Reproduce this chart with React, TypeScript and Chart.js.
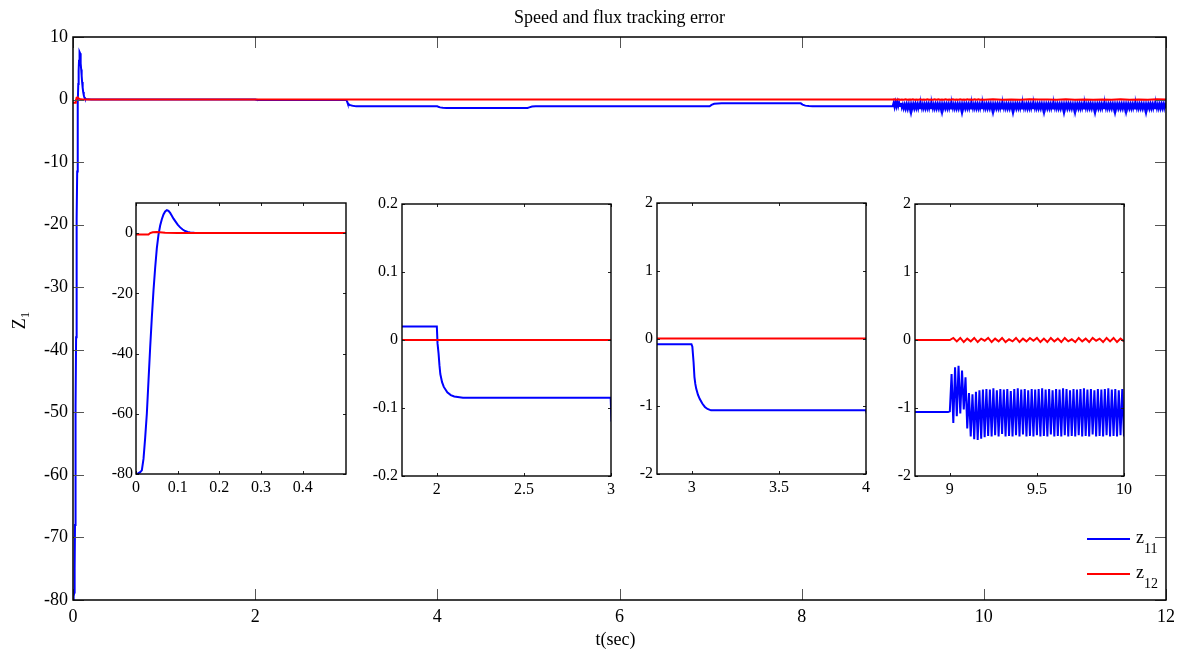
import React, { useEffect, useRef } from "react";
import { Chart, registerables } from "chart.js";

Chart.register(...registerables);

const FONT = "'Liberation Serif', 'Times New Roman', serif";

// ---------- data ----------
const seriesLabels = ["z11", "z12"];
const seriesColors = ["#0000FF", "#FF0000"];

// z11: transient part (time, value)
const z11Time = [
  0, 0.004, 0.01, 0.014, 0.018, 0.022, 0.026, 0.03, 0.034, 0.038,
  0.042, 0.046, 0.05, 0.054, 0.058, 0.062, 0.066, 0.07, 0.074, 0.078,
  0.082, 0.086, 0.09, 0.095, 0.1, 0.106, 0.112, 0.118, 0.124, 0.13,
  0.14, 0.16, 0.2,
  2.0, 2.004, 2.01, 2.015, 2.02, 2.03, 2.04, 2.06, 2.08, 2.1, 2.15,
  2.998, 3.003, 3.01, 3.015, 3.02, 3.025, 3.035, 3.045, 3.06, 3.075, 3.09, 3.11,
  3.999, 4.01, 4.03, 4.06, 4.1, 4.15,
  4.99, 5.01, 5.04, 5.08, 5.12,
  6.99, 7.01, 7.04, 7.08, 7.12,
  7.99, 8.01, 8.04, 8.08, 8.12, 8.99,
];
const z11Value = [
  -80, -79.9, -79.4, -78.8, -75, -68, -60, -49, -38, -28,
  -19, -11.5, -5, -0.5, 2.5, 4.6, 6.2, 7.2, 7.6, 7.4,
  6.7, 5.8, 4.8, 3.8, 2.8, 1.9, 1.2, 0.7, 0.4, 0.2,
  0.08, 0.03, 0.02,
  0.02, -0.005, -0.02, -0.037, -0.05, -0.062, -0.069, -0.077, -0.081, -0.083, -0.085,
  -0.085, -0.12, -0.35, -0.57, -0.67, -0.74, -0.83, -0.89, -0.96, -1.01, -1.04, -1.06,
  -1.06, -1.15, -1.25, -1.31, -1.34, -1.35,
  -1.35, -1.25, -1.12, -1.07, -1.06,
  -1.06, -0.85, -0.68, -0.62, -0.6,
  -0.6, -0.8, -0.97, -1.04, -1.06, -1.06,
];
// z11 oscillation, sampled every 0.01 s from t = 9.00
const z11OscAStart = 9.0;
const z11OscAStep = 0.01;
const z11OscA = [
  -1.05, -0.5, -1.22, -0.4, -1.12, -0.38, -1.08, -0.45, -1.02, -0.55,
  -1.3, -0.78, -1.42, -0.8, -1.46, -0.76, -1.47, -0.74, -1.45, -0.73,
  -1.43,
  -0.72, -1.41, -0.73, -1.42, -0.71, -1.4, -0.74, -1.42, -0.72, -1.38,
  -0.73, -1.42, -0.72, -1.41, -0.75, -1.42, -0.72, -1.4, -0.71, -1.42,
  -0.73, -1.39, -0.72, -1.42, -0.74, -1.41, -0.72, -1.42, -0.73, -1.4,
  -0.72, -1.42, -0.71, -1.41, -0.73, -1.42, -0.72, -1.39, -0.74, -1.42,
  -0.72, -1.41, -0.73, -1.42, -0.71, -1.4, -0.72, -1.42, -0.74, -1.41,
  -0.72, -1.42, -0.73, -1.4, -0.72, -1.42, -0.71, -1.41, -0.73, -1.42,
  -0.72, -1.39, -0.74, -1.42, -0.72, -1.41, -0.73, -1.42, -0.72, -1.4,
  -0.71, -1.42, -0.73, -1.41, -0.72, -1.42, -0.74, -1.4, -0.72,
];
// z11 oscillation, sampled every 0.01 s from t = 10.00
const z11OscBStart = 10.0;
const z11OscBStep = 0.01;
const z11OscB = [
  -1.42, -0.72, -1.41, -0.73, -1.42, -0.72, -1.4, -0.71, -1.42, -0.73,
  -1.41, -0.72, -1.42, -0.74, -1.4, -0.72, -1.42, -0.73, -1.41, -0.72,
  -1.42, -0.71, -1.39, -0.73, -1.42, -0.72, -1.41, -0.74, -1.42, -0.72,
  -1.4, -0.73, -1.42, -0.72, -1.41, -0.71, -1.42, -0.73, -1.4, -0.72,
  -1.42, -0.74, -1.41, -0.72, -1.42, -0.73, -1.39, -0.72, -1.42, -0.71,
  -1.41, -0.73, -1.42, -0.72, -1.4, -0.74, -1.42, -0.72, -1.41, -0.73,
  -1.42, -0.72, -1.4, -0.71, -1.42, -0.73, -1.41, -0.72, -1.42, -0.74,
  -1.39, -0.72, -1.42, -0.73, -1.41, -0.72, -1.42, -0.71, -1.4, -0.73,
  -1.42, -0.72, -1.41, -0.74, -1.42, -0.72, -1.4, -0.73, -1.42, -0.72,
  -1.41, -0.71, -1.42, -0.73, -1.4, -0.72, -1.42, -0.74, -1.41, -0.72,
  -1.42, -0.73, -1.4, -0.72, -1.41, -0.71, -1.42, -0.72, -1.39, -0.74,
  -1.42, -0.72, -1.41, -0.73, -1.42, -0.72, -1.4, -0.71, -1.42, -0.73,
  -1.41, -0.72, -1.42, -0.74, -1.4, -0.73, -1.42, -0.72, -1.41, -0.71,
  -1.42, -0.73, -1.39, -0.72, -1.42, -0.74, -1.41, -0.72, -1.42, -0.73,
  -1.4, -0.72, -1.42, -0.71, -1.41, -0.73, -1.42, -0.72, -1.4, -0.74,
  -1.42, -0.72, -1.41, -0.73, -1.42, -0.71, -1.39, -0.72, -1.42, -0.73,
  -1.41, -0.74, -1.42, -0.72, -1.4, -0.73, -1.42, -0.72, -1.41, -0.71,
  -1.42, -0.73, -1.4, -0.72, -1.42, -0.74, -1.41, -0.72, -1.42, -0.73,
  -1.39, -0.72, -1.42, -0.71, -1.41, -0.73, -1.42, -0.72, -1.4, -0.74,
  -1.42, -0.72, -1.41, -0.73, -1.42, -0.72, -1.4, -0.71, -1.42, -0.73,
  -1.41,
];

// z12: transient part
const z12Time = [0, 0.03, 0.034, 0.04, 0.05, 0.07, 0.1, 8.99];
const z12Value = [-0.5, -0.5, 0, 0.3, 0.35, 0.1, 0, 0];
// z12 ripple, every 0.02 s from 9.00
const z12OscAStart = 9.0;
const z12OscAStep = 0.02;
const z12OscA = [
  0.0, 0.03, -0.02, 0.03, -0.03, 0.02, -0.02, 0.03, -0.03, 0.02,
  -0.01, 0.03, -0.03, 0.02, -0.02, 0.03, -0.03, 0.01, -0.02, 0.03,
  -0.03, 0.02, -0.02, 0.03, -0.01, 0.03, -0.03, 0.02, -0.03, 0.03,
  -0.02, 0.02, -0.03, 0.03, -0.02, 0.01, -0.03, 0.03, -0.02, 0.02,
  -0.03, 0.03, -0.01, 0.02, -0.03, 0.03, -0.02, 0.03, -0.03, 0.02,
];
// z12 ripple, every 0.1 s from 10.0
const z12OscBStart = 10.0;
const z12OscBStep = 0.1;
const z12OscB = [
  -0.02, 0.03, -0.03, 0.02, -0.02, 0.03, -0.01, 0.02, -0.03, 0.03,
  -0.02, 0.02, -0.03, 0.01, -0.02, 0.03, -0.03, 0.02, -0.02, 0.03, -0.01,
];

// tick labels
const mainXTicks = [0, 2, 4, 6, 8, 10, 12];
const mainYTicks = [10, 0, -10, -20, -30, -40, -50, -60, -70, -80];
const inset1XTicks = [0, 0.1, 0.2, 0.3, 0.4];
const inset1YTicks = [0, -20, -40, -60, -80];
const inset2XTicks = [2, 2.5, 3];
const inset2YTicks = [0.2, 0.1, 0, -0.1, -0.2];
const inset3XTicks = [3, 3.5, 4];
const inset3YTicks = [2, 1, 0, -1, -2];
const inset4XTicks = [9, 9.5, 10];
const inset4YTicks = [2, 1, 0, -1, -2];

const titleText = "Speed and flux tracking error";
const xAxisText = "t(sec)";

// ---------- helpers ----------
type Pt = { x: number; y: number };
function buildPoints(
  times: number[],
  values: number[],
  segs: { start: number; step: number; values: number[] }[]
): Pt[] {
  const pts: Pt[] = times.map((t, i) => ({ x: t, y: values[i] }));
  for (const s of segs) {
    s.values.forEach((v, i) => {
      pts.push({ x: Math.round((s.start + i * s.step) * 1e6) / 1e6, y: v });
    });
  }
  return pts;
}

const z11Points = buildPoints(z11Time, z11Value, [
  { start: z11OscAStart, step: z11OscAStep, values: z11OscA },
  { start: z11OscBStart, step: z11OscBStep, values: z11OscB },
]);
const z12Points = buildPoints(z12Time, z12Value, [
  { start: z12OscAStart, step: z12OscAStep, values: z12OscA },
  { start: z12OscBStart, step: z12OscBStep, values: z12OscB },
]);

const framePlugin = {
  id: "frame",
  beforeDraw(chart: any) {
    const { ctx, chartArea: a } = chart;
    ctx.save();
    ctx.fillStyle = "#ffffff";
    ctx.fillRect(a.left, a.top, a.right - a.left, a.bottom - a.top);
    ctx.restore();
  },
  afterDraw(chart: any, _args: any, opts: any) {
    const { ctx, chartArea: a, scales } = chart;
    const len = opts.tickLen;
    ctx.save();
    ctx.strokeStyle = opts.tickColor;
    ctx.lineWidth = 1;
    ctx.beginPath();
    for (const t of scales.x.ticks) {
      const px = Math.round(scales.x.getPixelForValue(t.value)) + 0.5;
      ctx.moveTo(px, a.bottom);
      ctx.lineTo(px, a.bottom - len);
      ctx.moveTo(px, a.top);
      ctx.lineTo(px, a.top + len);
    }
    for (const t of scales.y.ticks) {
      const py = Math.round(scales.y.getPixelForValue(t.value)) + 0.5;
      ctx.moveTo(a.left, py);
      ctx.lineTo(a.left + len, py);
      ctx.moveTo(a.right, py);
      ctx.lineTo(a.right - len, py);
    }
    ctx.stroke();
    ctx.strokeStyle = "#000000";
    ctx.lineWidth = opts.borderWidth;
    ctx.strokeRect(a.left, a.top, a.right - a.left, a.bottom - a.top);
    ctx.restore();
  },
};

const decorPlugin = {
  id: "decor",
  afterDraw(chart: any) {
    const { ctx, chartArea: a } = chart;
    ctx.save();
    ctx.fillStyle = "#000";
    // title
    ctx.font = `18px ${FONT}`;
    ctx.textAlign = "center";
    ctx.textBaseline = "alphabetic";
    ctx.fillText(titleText, (a.left + a.right) / 2, 22.5);
    // x axis label
    ctx.textBaseline = "middle";
    ctx.fillText(xAxisText, (a.left + a.right) / 2 - 4, 640);
    // y axis label Z_1 rotated
    ctx.save();
    ctx.translate(25, (a.top + a.bottom) / 2 + 2);
    ctx.rotate(-Math.PI / 2);
    ctx.textAlign = "left";
    ctx.textBaseline = "alphabetic";
    ctx.font = `18px ${FONT}`;
    const zw = ctx.measureText("Z").width;
    ctx.font = `13px ${FONT}`;
    const sw = ctx.measureText("1").width;
    const start = -(zw + sw) / 2;
    ctx.font = `18px ${FONT}`;
    ctx.fillText("Z", start, 0);
    ctx.font = `13px ${FONT}`;
    ctx.fillText("1", start + zw, 4);
    ctx.restore();
    // legend
    const ds = chart.data.datasets;
    [0, 1].forEach((r) => {
      const d = ds[r];
      const y = 539 + r * 35;
      ctx.strokeStyle = d.borderColor;
      ctx.lineWidth = 2;
      ctx.beginPath();
      ctx.moveTo(1087, y);
      ctx.lineTo(1130, y);
      ctx.stroke();
      ctx.fillStyle = "#000";
      ctx.textAlign = "left";
      ctx.textBaseline = "alphabetic";
      ctx.font = `18px ${FONT}`;
      const lab = String(d.label);
      ctx.fillText(lab.charAt(0), 1136, y + 4);
      const w = ctx.measureText(lab.charAt(0)).width;
      ctx.font = `14px ${FONT}`;
      ctx.fillText(lab.slice(1), 1136 + w, y + 14);
    });
    ctx.restore();
  },
};

type Spec = {
  left: number; top: number; right: number; bottom: number;
  cx: number; cy: number; cw: number; ch: number;
  xMin: number; xMax: number; yMin: number; yMax: number;
  xTicks: number[]; yTicks: number[];
  font: number; xPad: number; yPad: number;
  tickLen: number; tickColor: string; borderWidth: number;
  main: boolean;
};

function makeSpec(
  left: number, top: number, right: number, bottom: number,
  outer: { l: number; t: number; r: number; b: number } | null,
  rest: Omit<Spec, "left" | "top" | "right" | "bottom" | "cx" | "cy" | "cw" | "ch">
): Spec {
  const o = outer || { l: 40, t: 12, r: 14, b: 28 };
  const cx = left - o.l;
  const cy = top - o.t;
  return {
    left, top, right, bottom,
    cx, cy, cw: right - left + o.l + o.r, ch: bottom - top + o.t + o.b,
    ...rest,
  };
}

function Panel({ spec }: { spec: Spec }) {
  const ref = useRef<HTMLCanvasElement | null>(null);
  useEffect(() => {
    const s = spec;
    const yW = s.left - s.cx;
    const xH = s.cy + s.ch - s.bottom;
    const padTop = s.top - s.cy;
    const padRight = s.cx + s.cw - s.right;
    const chart = new Chart(ref.current as HTMLCanvasElement, {
      type: "line",
      data: {
        datasets: [
          {
            label: seriesLabels[0],
            data: z11Points,
            borderColor: seriesColors[0],
            backgroundColor: seriesColors[0],
            borderWidth: 2,
            pointRadius: 0,
            tension: 0,
            fill: false,
            order: 1,
          },
          {
            label: seriesLabels[1],
            data: z12Points,
            borderColor: seriesColors[1],
            backgroundColor: seriesColors[1],
            borderWidth: 2,
            pointRadius: 0,
            tension: 0,
            fill: false,
            order: 0,
          },
        ],
      },
      options: {
        animation: false,
        responsive: false,
        devicePixelRatio: 1,
        events: [],
        layout: { padding: { top: padTop, right: padRight, left: 0, bottom: 0 } },
        plugins: {
          legend: { display: false },
          tooltip: { enabled: false },
          title: { display: false },
          frame: { tickLen: s.tickLen, tickColor: s.tickColor, borderWidth: s.borderWidth },
        } as any,
        scales: {
          x: {
            type: "linear",
            min: s.xMin,
            max: s.xMax,
            afterBuildTicks: (sc: any) => {
              sc.ticks = s.xTicks.map((v) => ({ value: v }));
            },
            afterFit: (sc: any) => {
              sc.height = xH;
              sc.paddingLeft = 0;
              sc.paddingRight = 0;
              sc.paddingTop = 0;
              sc.paddingBottom = 0;
            },
            grid: { display: false, drawTicks: false },
            border: { display: false },
            ticks: {
              autoSkip: false,
              maxRotation: 0,
              padding: s.xPad,
              color: "#000",
              font: { family: FONT, size: s.font },
              callback: (v: any) => String(v),
            },
          },
          y: {
            type: "linear",
            min: s.yMin,
            max: s.yMax,
            afterBuildTicks: (sc: any) => {
              sc.ticks = s.yTicks.map((v) => ({ value: v }));
            },
            afterFit: (sc: any) => {
              sc.width = yW;
              sc.paddingLeft = 0;
              sc.paddingRight = 0;
              sc.paddingTop = 0;
              sc.paddingBottom = 0;
            },
            grid: { display: false, drawTicks: false },
            border: { display: false },
            ticks: {
              autoSkip: false,
              padding: s.yPad,
              color: "#000",
              font: { family: FONT, size: s.font },
              callback: (v: any) => String(v),
            },
          },
        },
      } as any,
      plugins: s.main ? [framePlugin, decorPlugin] : [framePlugin],
    });
    return () => chart.destroy();
  }, [spec]);
  return (
    <canvas
      ref={ref}
      width={spec.cw}
      height={spec.ch}
      style={{ position: "absolute", left: spec.cx, top: spec.cy, width: spec.cw, height: spec.ch }}
    />
  );
}

const mainSpec = makeSpec(73, 37, 1166, 600, { l: 73, t: 37, r: 17, b: 52 }, {
  xMin: 0, xMax: 12, yMin: -80, yMax: 10, xTicks: mainXTicks, yTicks: mainYTicks,
  font: 18, xPad: 6, yPad: 5, tickLen: 11, tickColor: "#555555", borderWidth: 1.5, main: true,
});
const insetCommon = { font: 16, xPad: 4, yPad: 4, tickLen: 3, tickColor: "#222222", borderWidth: 1.4, main: false };
const inset1Spec = makeSpec(136, 203, 346, 474, null, {
  xMin: 0, xMax: 0.504, yMin: -80, yMax: 10, xTicks: inset1XTicks, yTicks: inset1YTicks, ...insetCommon, yPad: 3,
});
const inset2Spec = makeSpec(402, 204, 611, 476, null, {
  xMin: 1.8, xMax: 3, yMin: -0.2, yMax: 0.2, xTicks: inset2XTicks, yTicks: inset2YTicks, ...insetCommon,
});
const inset3Spec = makeSpec(657, 203, 866, 474, null, {
  xMin: 2.8, xMax: 4, yMin: -2, yMax: 2, xTicks: inset3XTicks, yTicks: inset3YTicks, ...insetCommon,
});
const inset4Spec = makeSpec(915, 204, 1124, 476, null, {
  xMin: 8.8, xMax: 10, yMin: -2, yMax: 2, xTicks: inset4XTicks, yTicks: inset4YTicks, ...insetCommon,
});

export default function App() {
  return (
    <div style={{ position: "absolute", left: 0, top: 0, width: 1183, height: 652, background: "#fff" }}>
      <Panel spec={mainSpec} />
      <Panel spec={inset1Spec} />
      <Panel spec={inset2Spec} />
      <Panel spec={inset3Spec} />
      <Panel spec={inset4Spec} />
    </div>
  );
}
